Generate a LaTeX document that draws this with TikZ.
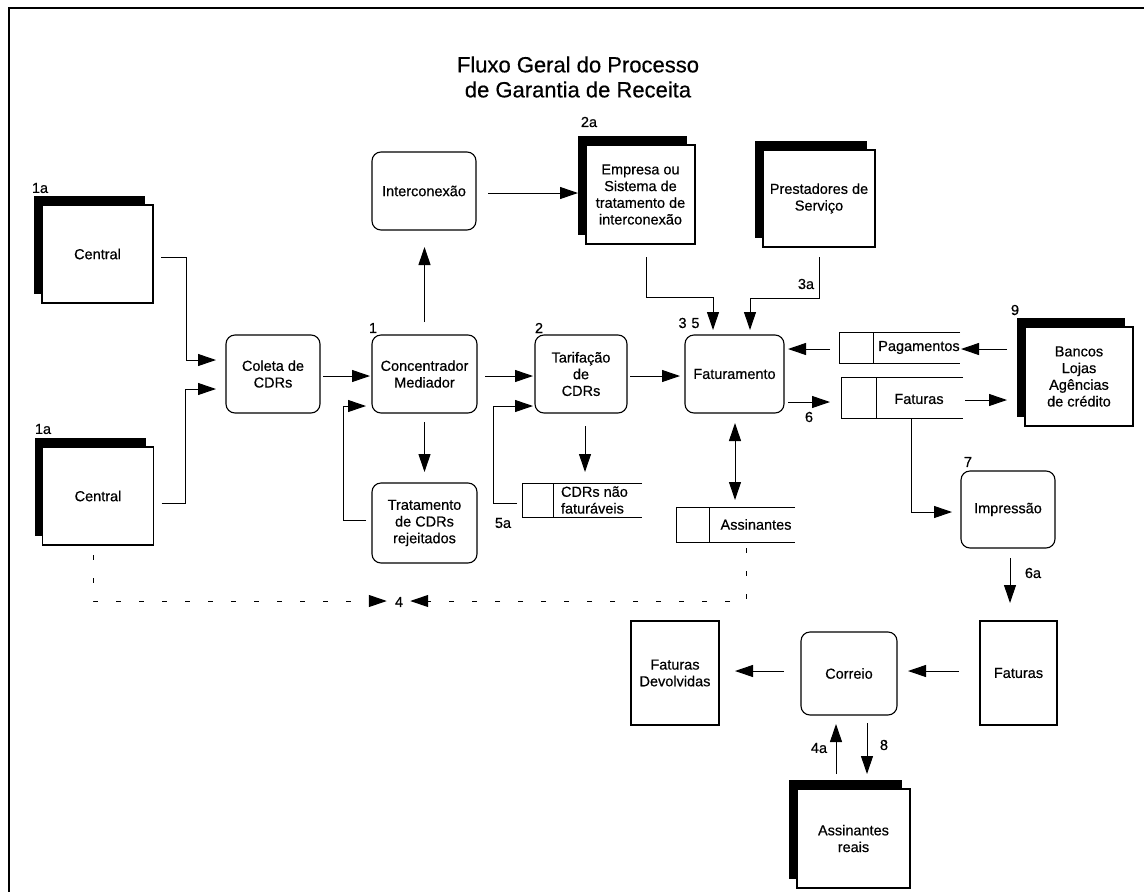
\documentclass[tikz,border=0pt]{standalone}
\usepackage{fontspec}
\setmainfont{Liberation Sans}[FakeBold=0.5]
\usetikzlibrary{arrows.meta,calc,shadows}

% data store: open on the right, with a small key compartment on the left
\newcommand\storeframe[2]{%
  \draw[line width=1pt] (#1.north east) -- (#1.north west) -- (#1.south west) -- (#1.south east);
  \draw[line width=1pt] ($(#1.north west)+(#2,0)$) -- ($(#1.south west)+(#2,0)$);}

\tikzset{
  base/.style={font=\fontsize{14.5}{16.7}\selectfont, align=center, inner sep=0pt, outer sep=0pt},
  proc/.style={base, draw, line width=1.1pt, rounded corners=9pt},
  ext/.style={base, draw, fill=white, line width=1.1pt,
    general shadow={fill=black, shadow xshift=-8pt, shadow yshift=9pt}},
  plainbox/.style={base, draw, line width=1.1pt},
  store/.style={base},
  tag/.style={font=\fontsize{14.5}{16}\selectfont, inner sep=0pt},
  arr/.style={line width=1pt, -{Triangle[length=18pt,width=12pt]}},
  darr/.style={line width=1pt, {Triangle[length=18pt,width=12pt]}-{Triangle[length=18pt,width=12pt]}},
  dashline/.style={line width=1pt, dash pattern=on 5pt off 18pt, -{Triangle[length=18pt,width=12pt]}},
}

\begin{document}
\begin{tikzpicture}[x=1pt,y=-1pt]
\useasboundingbox (0,0) rectangle (1144,892);

% frame
\draw[line width=1.2pt] (9,892) -- (9,8) -- (1144,8);

% title
\node[base, font=\fontsize{22}{25}\selectfont] (title) at (578,77)
  {Fluxo Geral do Processo\\de Garantia de Receita};

% external entities
\node[ext, minimum width=111pt, minimum height=98pt] (c1) at (97.5,254) {Central};
\node[ext, minimum width=111pt, minimum height=98pt] (c2) at (98,496) {Central};
\node[ext, minimum width=109pt, minimum height=99pt] (emp) at (640.5,194.5)
  {Empresa ou\\Sistema de\\tratamento de\\interconexão};
\node[ext, minimum width=112pt, minimum height=97pt] (prest) at (819,198.5) {Prestadores de\\Serviço};
\node[ext, minimum width=108pt, minimum height=99pt] (bancos) at (1079,376.5)
  {Bancos\\Lojas\\Agências\\de crédito};
\node[ext, minimum width=113pt, minimum height=99pt] (assr) at (853.5,838.5) {Assinantes\\reais};

% processes
\node[proc, minimum width=94pt, minimum height=78pt] (coleta) at (273,374) {Coleta de\\CDRs};
\node[proc, minimum width=105pt, minimum height=78pt] (conc) at (424.5,374) {Concentrador\\Mediador};
\node[proc, minimum width=105pt, minimum height=80pt] (trat) at (424.5,523) {Tratamento\\de CDRs\\rejeitados};
\node[proc, minimum width=104pt, minimum height=78pt] (inter) at (424,191) {Interconexão};
\node[proc, minimum width=92pt, minimum height=78pt] (tarif) at (581,374) {Tarifação\\de\\CDRs};
\node[proc, minimum width=99pt, minimum height=78pt] (fat) at (734.5,374) {Faturamento};
\node[proc, minimum width=94pt, minimum height=77pt] (impr) at (1008,509.5) {Impressão};
\node[proc, minimum width=96pt, minimum height=83pt] (correio) at (849,673.5) {Correio};

% documents
\node[plainbox, minimum width=77pt, minimum height=104pt] (fatb) at (1018.5,673) {Faturas};
\node[plainbox, minimum width=88pt, minimum height=104pt] (fdev) at (675,673) {Faturas\\Devolvidas};

% data stores
\node[store, minimum width=120pt, minimum height=34pt] (cdrn) at (582,500) {};
\storeframe{cdrn}{31}
\node[base, align=left, anchor=west] (cdrntxt) at ($(cdrn.west)+(39,0)$) {CDRs não\\faturáveis};

\node[store, minimum width=119pt, minimum height=35pt] (assin) at (735.5,524.5) {};
\storeframe{assin}{33}
\node[base] (assintxt) at ($(assin.west)+(80,0)$) {Assinantes};

\node[store, minimum width=121pt, minimum height=31pt] (pag) at (899.5,347.5) {};
\storeframe{pag}{34}
\node[base] (pagtxt) at ($(pag.west)+(80,0)$) {Pagamentos};

\node[store, minimum width=122pt, minimum height=41pt] (fats) at (902,397.5) {};
\storeframe{fats}{35}
\node[base] (fatstxt) at ($(fats.west)+(78,1.5)$) {Faturas};

% step numbers
\node[tag] at ($(c1.north west)+(-2,-17)$) {1a};
\node[tag] at ($(c2.north west)+(0.5,-18)$) {1a};
\node[tag] at ($(conc.north west)+(1,-7)$) {1};
\node[tag] at ($(tarif.north west)+(4,-7)$) {2};
\node[tag] at ($(emp.north west)+(3,-23)$) {2a};
\node[tag] at ($(fat.north west)+(4,-12)$) {3\,\,5};
\node[tag] at ($(prest.south)+(-13,37)$) {3a};
\node[tag] at ($(bancos.north west)+(-10,-17)$) {9};
\node[tag] at ($(fat.east)+(25,43)$) {6};
\node[tag] at ($(impr.north west)+(7,-9)$) {7};
\node[tag] at ($(cdrn.west)+(-19,23)$) {5a};
\node[tag] at ($(impr.south)+(25,25)$) {6a};
\node[tag] at ($(correio.south)+(-30,33)$) {4a};
\node[tag] at ($(correio.south)+(35,30)$) {8};
\node[tag] (four) at (399,602) {4};

% flows
\draw[arr] ($(c1.east)+(8,3)$) -- ++(25,0) |- ($(coleta.west)+(-10,-14)$);
\draw[arr] ($(c2.east)+(8,7)$) -- ++(24,0) |- ($(coleta.west)+(-10,15)$);
\draw[arr] ($(coleta.east)+(3,2)$) -- ($(conc.west)+(-2,2)$);
\draw[arr] ($(trat.west)+(-6,-3)$) -- ++(-23,0) |- ($(conc.west)+(-6,32)$);
\draw[arr] ($(conc.south)+(0,9)$) -- ($(trat.north)+(0,-11)$);
\draw[arr] ($(conc.north)+(0,-13)$) -- ($(inter.south)+(0.5,17)$);
\draw[arr] ($(inter.east)+(12,2)$) -- ($(emp.west)+(-8,-1.5)$);
\draw[arr] ($(conc.east)+(8,2)$) -- ($(tarif.west)+(-2,2)$);
\draw[arr] ($(tarif.east)+(3,2)$) -- ($(fat.west)+(-5,2)$);
\draw[arr] ($(tarif.south)+(4,13)$) -- ($(cdrn.north)+(3,-11)$);
\draw[arr] ($(cdrn.west)+(-5,3)$) -- ++(-24,0) |- ($(tarif.west)+(-2,32)$);
\draw[arr] ($(emp.south)+(5.5,13)$) -- ++(0,40) -| ($(fat.north)+(-21.5,-5)$);
\draw[arr] ($(prest.south)+(0,10)$) -- ++(0,41) -| ($(fat.north)+(15.5,-5)$);
\draw[arr] ($(pag.west)+(-9,1.5)$) -- ($(fat.east)+(4,-25)$);
\draw[arr] ($(bancos.west)+(-18,-27.5)$) -- ($(pag.east)+(1,1.5)$);
\draw[arr] ($(fat.east)+(4,28)$) -- ($(fats.west)+(-11,4.5)$);
\draw[arr] ($(fats.east)+(2,2.5)$) -- ($(bancos.west)+(-18,23.5)$);
\draw[arr] ($(fats.south)+(9,0)$) |- ($(impr.west)+(-9,2.5)$);
\draw[arr] ($(impr.south)+(2,10)$) -- ($(fatb.north)+(-8.5,-18)$);
\draw[arr] ($(fatb.west)+(-21,-2)$) -- ($(correio.east)+(11,-2.5)$);
\draw[arr] ($(correio.west)+(-17,-2.5)$) -- ($(fdev.east)+(16,-2)$);
\draw[arr] ($(assr.north)+(-17.5,-15)$) -- ($(correio.south)+(-13,9)$);
\draw[arr] ($(correio.south)+(18,8)$) -- ($(assr.north)+(13.5,-15)$);
\draw[darr] ($(fat.south)+(0.5,10)$) -- ($(assin.north)+(-0.5,-7)$);

% dashed control flows meeting at step 4
\draw[dashline] ($(c2.south)+(-5,10)$) |- ($(four.west)+(-8,-1)$);
\draw[dashline] ($(assin.south)+(10.5,6)$) |- ($(four.east)+(7,-1)$);
\end{tikzpicture}
\end{document}
